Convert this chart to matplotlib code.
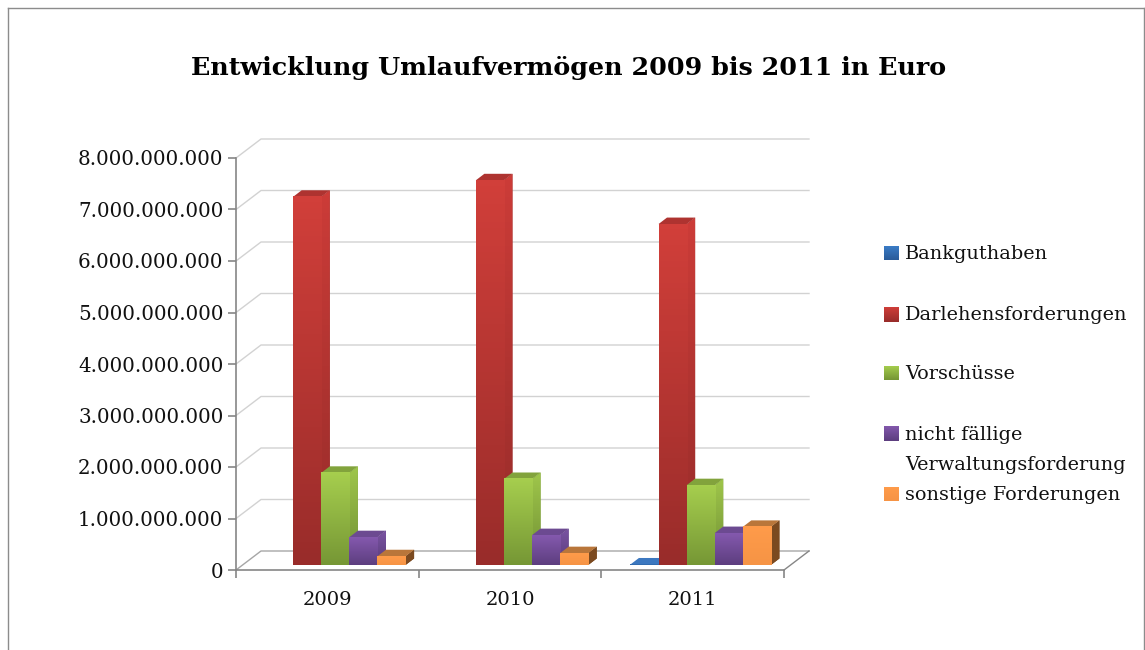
import numpy as np
import matplotlib
matplotlib.use('Agg')
import matplotlib.pyplot as plt
from matplotlib.colors import LinearSegmentedColormap
from matplotlib.lines import Line2D
from matplotlib.ticker import FuncFormatter

# Data
years = ['2009', '2010', '2011']
series = ['Bankguthaben', 'Darlehensforderungen', 'Vorschüsse',
          'nicht fällige\nVerwaltungsforderung', 'sonstige Forderungen']
bankguthaben = [0, 0, 10000000]
darlehen = [7150000000, 7470000000, 6620000000]
vorschuesse = [1790000000, 1670000000, 1550000000]
verwaltung = [540000000, 580000000, 620000000]
sonstige = [170000000, 230000000, 740000000]
values = [bankguthaben, darlehen, vorschuesse, verwaltung, sonstige]

# (front top, front bottom, top face, side top, side bottom)
colors = [
    ('#3B7DC8', '#2A5C9A', '#3C78C0', '#2F6099', '#2F6099'),
    ('#D13F3A', '#992C2A', '#AE3330', '#CC3C38', '#942B29'),
    ('#A6CE4E', '#769735', '#82A33C', '#9FC64B', '#708F33'),
    ('#8459AE', '#5D3E7F', '#6C4A91', '#7A54A3', '#5A3C7B'),
    ('#FF9B4A', '#F69445', '#B9763A', '#7B4A20', '#7B4A20'),
]

W, H = 1145, 650
fig = plt.figure(figsize=(W / 100, H / 100), dpi=100)
ax = fig.add_axes([236 / W, 1 - 570 / H, 548 / W, 412 / H])
ax.set_xlim(0, 3)
ax.set_ylim(0, 8000000000)

# pixel sizes of the fake 3D look, turned into data units
px_x = 3 / 548
px_y = 8000000000 / 412
wall_dx, wall_dy = 25 * px_x, 19 * px_y
bar_dx, bar_dy = 8.5 * px_x, 6.5 * px_y
floor = 5 * px_y
bar_width = 28.1 * px_x
shift = 8 * px_x

grid_c = '#D2D2D2'
axis_c = '#868686'

# walls
for tick in np.arange(0, 8000000001, 1000000000):
    c = '#A6A6A6' if tick == 0 else grid_c
    ax.plot([0, wall_dx, 3 + wall_dx], [tick, tick + wall_dy, tick + wall_dy],
            color=c, lw=1.0, clip_on=False, zorder=1)
ax.plot([3, 3 + wall_dx], [0, wall_dy], color=axis_c, lw=1.0, clip_on=False, zorder=1)

# bars
z = 2
for i in range(len(years)):
    for j, vals in enumerate(values):
        v = vals[i]
        if v == 0:
            continue
        top_c, bot_c, face_top, side_top, side_bot = colors[j]
        x0 = i + 0.5 + shift + (j - 2.5) * bar_width
        x1 = x0 + bar_width
        y0 = floor
        y1 = floor + v
        # side face, gradient clipped to the parallelogram
        side = ax.fill([x1, x1 + bar_dx, x1 + bar_dx, x1], [y0, y0 + bar_dy, y1 + bar_dy, y1],
                       color=side_bot, lw=0, clip_on=False, zorder=z)[0]
        cmap = LinearSegmentedColormap.from_list('s', [side_top, side_bot])
        im = ax.imshow(np.linspace(0, 1, 64).reshape(-1, 1), cmap=cmap, aspect='auto',
                       extent=(x1, x1 + bar_dx, y0, y1 + bar_dy), origin='upper', zorder=z)
        im.set_clip_path(side)
        ax.fill([x0, x0 + bar_dx, x1 + bar_dx, x1], [y1, y1 + bar_dy, y1 + bar_dy, y1],
                color=face_top, lw=0, clip_on=False, zorder=z)
        cmap = LinearSegmentedColormap.from_list('b', [top_c, bot_c])
        ax.imshow(np.linspace(0, 1, 64).reshape(-1, 1), cmap=cmap, aspect='auto',
                  extent=(x0, x1, y0, y1), origin='upper', zorder=z + 0.5, clip_on=False)
        z += 1

ax.set_xlim(0, 3)
ax.set_ylim(0, 8000000000)

# axes
for s in ['top', 'right']:
    ax.spines[s].set_visible(False)
for s in ['left', 'bottom']:
    ax.spines[s].set_color(axis_c)
    ax.spines[s].set_linewidth(1.2)
    ax.spines[s].set_zorder(1)
ax.patch.set_alpha(0)

ax.set_yticks(np.arange(0, 8000000001, 1000000000))
ax.yaxis.set_major_formatter(FuncFormatter(lambda v, p: f'{v:,.0f}'.replace(',', '.')))
ax.set_xticks([0, 1, 2, 3])
ax.set_xticklabels([])
ax.set_xticks([0.5, 1.5, 2.5], minor=True)
ax.set_xticklabels(years, minor=True)
ax.tick_params(axis='y', length=6, width=1.2, color=axis_c, pad=3, labelsize=14.3, labelcolor='#111111')
ax.tick_params(axis='x', which='major', length=6, width=1.2, color=axis_c, direction='out')
ax.tick_params(axis='x', which='minor', length=0, pad=15, labelsize=14, labelcolor='#111111')
for lab in ax.get_yticklabels() + ax.get_xticklabels(minor=True):
    lab.set_family('DejaVu Serif')

# title
fig.text(569 / W, 1 - 68 / H, 'Entwicklung Umlaufvermögen 2009 bis 2011 in Euro',
         family='DejaVu Serif', fontweight='bold', fontsize=18.3, color='black',
         ha='center', va='center')

# legend, placed by hand because the spacing is uneven
legend_y = [253, 314, 373, 434, 494]
for name, col, ly in zip(series, colors, legend_y):
    sw = fig.add_axes([884 / W, 1 - (ly + 7.5) / H, 15 / W, 15 / H])
    cmap = LinearSegmentedColormap.from_list('l', [col[0], col[1]])
    sw.imshow(np.linspace(0, 1, 16).reshape(-1, 1), cmap=cmap, aspect='auto')
    sw.axis('off')
    fig.text(905 / W, 1 - (ly + 1) / H, name.split('\n')[0], family='DejaVu Serif',
             fontsize=13.9, color='#111111', va='center')
    if '\n' in name:
        fig.text(905 / W, 1 - (ly + 31) / H, name.split('\n')[1], family='DejaVu Serif',
                 fontsize=13.9, color='#111111', va='center')

# slide border, the bottom edge is cut off in the original
border = '#8C8C8C'
fig.add_artist(Line2D([8 / W, 8 / W], [0, 1 - 8 / H], color=border, lw=1))
fig.add_artist(Line2D([8 / W, 1144 / W], [1 - 8 / H, 1 - 8 / H], color=border, lw=1))
fig.add_artist(Line2D([1144 / W, 1144 / W], [0, 1 - 8 / H], color=border, lw=1))

plt.savefig('out.png', dpi=100)
plt.close()
